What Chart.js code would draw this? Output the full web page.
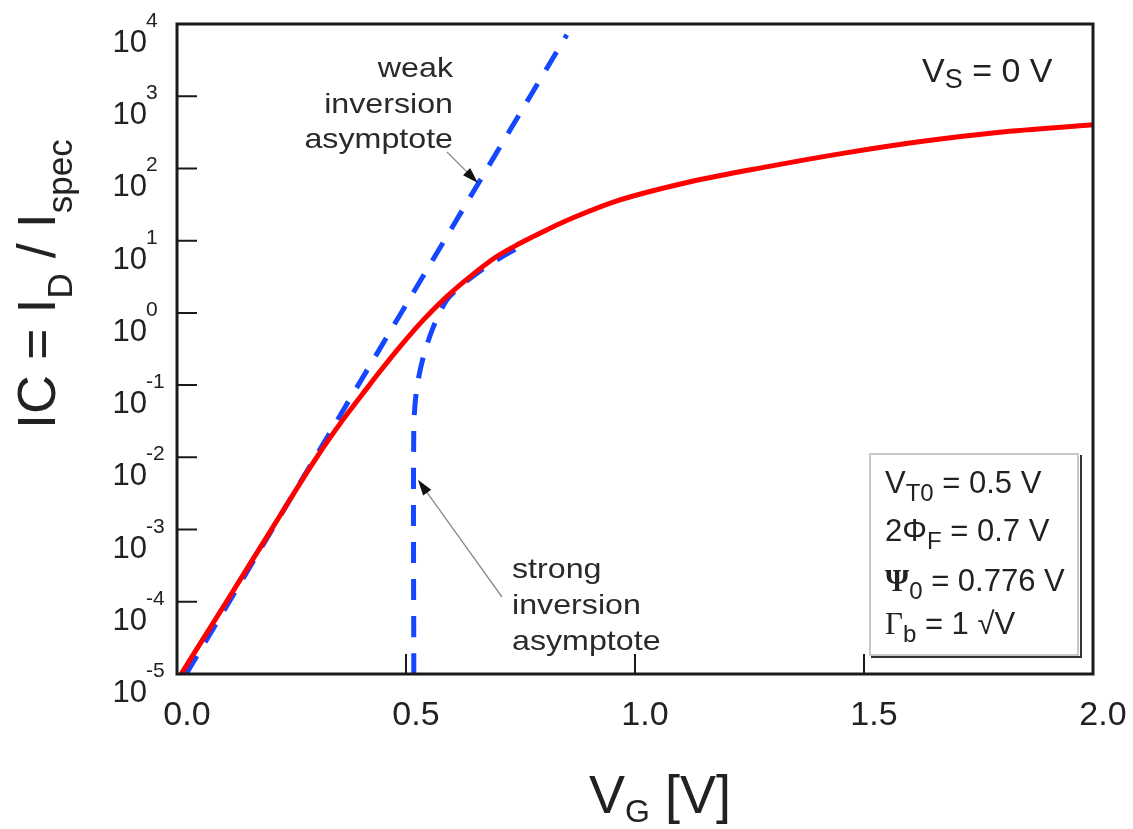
<!DOCTYPE html>
<html>
<head>
<meta charset="utf-8">
<script src="https://cdn.jsdelivr.net/npm/chart.js@4.4.1/dist/chart.umd.min.js"></script>
<style>
  html, body { margin: 0; padding: 0; background: #fff; }
  #wrap { width: 1133px; height: 829px; }
</style>
</head>
<body>
<div id="wrap"><canvas id="icChart" width="1133" height="829"></canvas></div>
<script>
// IC = ID / Ispec versus gate voltage (VS = 0 V)
const vgCurve = [0.009, 0.108, 0.206, 0.305, 0.362, 0.420, 0.443, 0.487, 0.538, 0.589, 0.640, 0.698,
                 0.749, 0.807, 0.870, 0.956, 1.123, 1.290, 1.457, 1.624, 1.791, 2.0];
const icCurve = [1e-5, 1e-4, 1e-3, 1e-2, 0.033, 0.1, 0.154, 0.341, 0.80, 1.68, 3.18, 6.03,
                 9.2, 14.1, 21.4, 34.8, 65.9, 106, 163, 236, 315, 402];

// weak inversion asymptote (straight line on the log axis)
const vgWeak = [0.02, 0.30, 0.509, 0.662, 0.851];
const icWeak = [1e-5, 0.0096, 1.61, 68.7, 7080];

// strong inversion asymptote
const vgStrong = [0.517, 0.517, 0.523, 0.538, 0.560, 0.589, 0.618, 0.662, 0.705, 0.75];
const icStrong = [1e-5, 0.0251, 0.0851, 0.248, 0.646, 1.51, 2.31, 3.8, 5.75, 8.3];

const xTicks = [0, 0.5, 1.0, 1.5, 2.0];
const yTickExps = [4, 3, 2, 1, 0, -1, -2, -3, -4, -5];

const TXT = '#222';
const SANS = '"Liberation Sans", Arial, sans-serif';
const SERIF = '"Liberation Serif", "Times New Roman", serif';

function toPoints(xs, ys) {
    return xs.map((x, i) => ({ x: x, y: ys[i] }));
}

// draws a run of text pieces [text, font, dy] from left to right
function drawRun(ctx, parts, x, y) {
    for (const [t, f, dy] of parts) {
        ctx.font = f;
        ctx.fillText(t, x, y + dy);
        x += ctx.measureText(t).width;
    }
    return x;
}

function arrow(ctx, x1, y1, x2, y2) {
    const ang = Math.atan2(y2 - y1, x2 - x1);
    const len = 16, half = 5;
    ctx.save();
    ctx.strokeStyle = '#8a8a8a';
    ctx.lineWidth = 1.3;
    ctx.beginPath();
    ctx.moveTo(x1, y1);
    ctx.lineTo(x2 - Math.cos(ang) * len * 0.8, y2 - Math.sin(ang) * len * 0.8);
    ctx.stroke();
    ctx.fillStyle = '#111';
    ctx.beginPath();
    ctx.moveTo(x2, y2);
    ctx.lineTo(x2 - Math.cos(ang) * len + Math.sin(ang) * half, y2 - Math.sin(ang) * len - Math.cos(ang) * half);
    ctx.lineTo(x2 - Math.cos(ang) * len - Math.sin(ang) * half, y2 - Math.sin(ang) * len + Math.cos(ang) * half);
    ctx.closePath();
    ctx.fill();
    ctx.restore();
}

const decorations = {
    id: 'decorations',
    afterDatasetsDraw(chart) {
        const ctx = chart.ctx;
        const { left, right, top, bottom } = chart.chartArea;
        const xs = chart.scales.x, ys = chart.scales.y;
        ctx.save();

        // frame
        ctx.strokeStyle = '#1a1a1a';
        ctx.lineWidth = 3;
        ctx.strokeRect(left, top, right - left, bottom - top);

        // inward tick marks
        ctx.lineWidth = 2;
        ctx.beginPath();
        yTickExps.forEach(e => {
            const py = ys.getPixelForValue(Math.pow(10, e));
            ctx.moveTo(left, py);
            ctx.lineTo(left + 20, py);
        });
        xTicks.forEach(v => {
            const px = xs.getPixelForValue(v);
            ctx.moveTo(px, bottom);
            ctx.lineTo(px, bottom - 20);
        });
        ctx.stroke();

        // y tick labels 10^n
        ctx.fillStyle = TXT;
        ctx.textBaseline = 'alphabetic';
        yTickExps.forEach(e => {
            const py = ys.getPixelForValue(Math.pow(10, e));
            ctx.font = '31px ' + SANS;
            ctx.textAlign = 'right';
            ctx.fillText('10', left - 30, py + 28);
            ctx.font = '21px ' + SANS;
            ctx.textAlign = 'left';
            ctx.fillText(String(e), left - 31, py + 3);
        });

        // y axis title
        ctx.textAlign = 'left';
        ctx.save();
        ctx.translate(55, 429);
        ctx.rotate(-Math.PI / 2);
        drawRun(ctx, [
            ['IC = I', '54px ' + SANS, 0],
            ['D', '35px ' + SANS, 17],
            [' / I', '54px ' + SANS, 0],
            ['spec', '35px ' + SANS, 17]
        ], 0, 0);
        ctx.restore();

        // x axis title
        drawRun(ctx, [
            ['V', '54px ' + SANS, 0],
            ['G', '32px ' + SANS, 9],
            [' [V]', '54px ' + SANS, 0]
        ], 589, 813);

        // VS = 0 V
        drawRun(ctx, [
            ['V', '34px ' + SANS, 0],
            ['S', '27px ' + SANS, 6],
            [' = 0 V', '34px ' + SANS, 0]
        ], 922, 82);

        // annotations (slightly wide lettering as in the original)
        ctx.save();
        ctx.font = '28px ' + SANS;
        ctx.fillStyle = '#2a2a2a';
        ctx.scale(1.15, 1);
        ctx.textAlign = 'right';
        ['weak', 'inversion', 'asymptote'].forEach((t, i) => ctx.fillText(t, 453 / 1.15, 77 + i * 35.5));
        ctx.textAlign = 'left';
        ['strong', 'inversion', 'asymptote'].forEach((t, i) => ctx.fillText(t, 512 / 1.15, 578 + i * 36));
        ctx.restore();

        arrow(ctx, 447, 152, xs.getPixelForValue(0.657), ys.getPixelForValue(63));
        arrow(ctx, 502, 597, xs.getPixelForValue(0.526), ys.getPixelForValue(0.0049));

        // parameter box
        ctx.strokeStyle = '#c8c8c8';
        ctx.lineWidth = 2;
        ctx.strokeRect(870, 454, 208, 201);
        ctx.strokeStyle = '#333';
        ctx.lineWidth = 2;
        ctx.beginPath();
        ctx.moveTo(871, 657);
        ctx.lineTo(1081, 657);
        ctx.lineTo(1081, 455);
        ctx.stroke();

        ctx.fillStyle = TXT;
        const main = '31px ' + SANS, sub = '24px ' + SANS;
        drawRun(ctx, [['V', main, 0], ['T0', sub, 8], [' = 0.5 V', main, 0]], 885, 493);
        drawRun(ctx, [['2\u03A6', main, 0], ['F', sub, 8], [' = 0.7 V', main, 0]], 885, 541);
        drawRun(ctx, [['\u03A8', 'bold 31px ' + SERIF, 0], ['0', sub, 8], [' = 0.776 V', main, 0]], 885, 591);
        drawRun(ctx, [['\u0393', '31px ' + SERIF, 0], ['b', sub, 8], [' = 1 \u221AV', main, 0]], 885, 634);

        ctx.restore();
    }
};

function createIcChart() {
    const ctx = document.getElementById('icChart').getContext('2d');
    new Chart(ctx, {
        type: 'line',
        data: {
            datasets: [{
                label: 'IC',
                data: toPoints(vgCurve, icCurve),
                borderColor: '#ff0000',
                borderWidth: 5,
                pointRadius: 0,
                cubicInterpolationMode: 'monotone'
            }, {
                label: 'weak inversion asymptote',
                data: toPoints(vgWeak, icWeak),
                borderColor: '#1447ff',
                borderWidth: 5,
                borderDash: [21, 16],
                pointRadius: 0,
                tension: 0
            }, {
                label: 'strong inversion asymptote',
                data: toPoints(vgStrong, icStrong),
                borderColor: '#1447ff',
                borderWidth: 5,
                borderDash: [21, 16],
                pointRadius: 0,
                tension: 0.3
            }]
        },
        options: {
            responsive: false,
            animation: false,
            devicePixelRatio: 1,
            layout: { padding: { top: 24, right: 40, left: 0, bottom: 0 } },
            plugins: {
                legend: { display: false },
                tooltip: { enabled: false }
            },
            scales: {
                x: {
                    type: 'linear',
                    min: 0,
                    max: 2,
                    grid: { display: false, drawTicks: false },
                    border: { display: false },
                    ticks: {
                        stepSize: 0.5,
                        labelOffset: 10,
                        padding: 21,
                        color: TXT,
                        font: { family: SANS, size: 34 },
                        callback: v => v.toFixed(1)
                    },
                    afterFit: s => { s.height = 155; s.paddingLeft = 0; s.paddingRight = 0; }
                },
                y: {
                    type: 'logarithmic',
                    min: 1e-5,
                    max: 1e4,
                    grid: { display: false, drawTicks: false },
                    border: { display: false },
                    ticks: { display: false },
                    afterFit: s => { s.width = 177; s.paddingTop = 0; s.paddingBottom = 0; }
                }
            }
        },
        plugins: [decorations]
    });
}

document.addEventListener('DOMContentLoaded', createIcChart);
</script>
</body>
</html>
